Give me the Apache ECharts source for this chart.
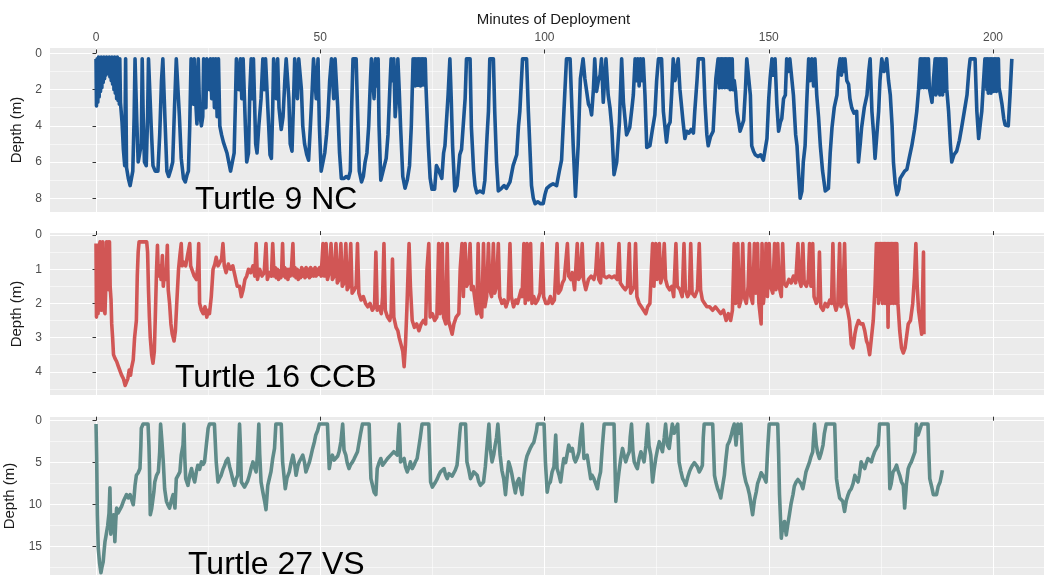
<!DOCTYPE html>
<html>
<head>
<meta charset="utf-8">
<title>Turtle dive profiles</title>
<script src="https://cdn.jsdelivr.net/npm/echarts@6/dist/echarts.min.js"></script>
<style>
html, body { margin: 0; padding: 0; background: #ffffff; }
#chart { width: 1044px; height: 575px; }
</style>
</head>
<body>
<div id="chart"></div>
<script>
// tick values
var minuteTicks = [0, 50, 100, 150, 200];
var minuteMinor = [25, 75, 125, 175];
var ncDepthTicks = [0, 2, 4, 6, 8];
var ncDepthMinor = [1, 3, 5, 7];
var ccbDepthTicks = [0, 1, 2, 3, 4];
var ccbDepthMinor = [0.5, 1.5, 2.5, 3.5, 4.5];
var vsDepthTicks = [0, 5, 10, 15];
var vsDepthMinor = [2.5, 7.5, 12.5, 17.5];

var turtleNames = ['Turtle 9 NC', 'Turtle 16 CCB', 'Turtle 27 VS'];

// [minute, depth (m)]
var nc9 = [
[0,0.3],[0.1,2.9],[0.25,0.3],[0.4,2.7],[0.55,0.2],[0.7,2.4],[0.85,0.3],[1.0,2.1],[1.15,0.2],[1.3,1.9],[1.45,0.3],[1.6,1.6],[1.75,0.2],[1.9,1.4],[2.05,0.3],[2.2,1.2],[2.35,0.2],[2.5,1.1],[2.65,0.3],[2.8,1.1],[2.95,0.2],[3.1,1.3],[3.25,0.3],[3.4,1.5],[3.55,0.2],[3.7,1.7],[3.85,0.3],[4.0,2.0],[4.15,0.2],[4.3,2.2],[4.45,0.3],[4.6,2.5],[4.75,0.2],[4.9,2.6],[5.05,0.3],[5.2,2.8],[5.3,0.3],[5.45,2.7],
[5.8,3.8],[6.1,5.3],[6.4,6.2],[6.6,0.3],[6.8,6.3],[7.2,6.9],[7.6,7.3],[7.9,7.2],[8.2,6.5],[8.5,3.5],[8.7,0.3],
[8.9,0.3],[9.1,3.8],[9.4,6.0],[9.8,6.1],[10.1,5.0],[10.3,0.3],[10.5,3.2],[10.8,6.0],[11.2,6.2],[11.5,3.5],[11.7,0.3],
[12.0,0.3],[12.3,4.0],[12.7,6.2],[13.2,6.5],[13.8,6.5],[14.2,4.5],[14.6,1.5],[14.9,0.3],
[15.2,0.3],[15.4,3.8],[15.8,6.5],[16.2,6.8],[16.7,6.4],[17.1,6.0],[17.5,3.0],[17.9,0.3],
[18.3,0.3],[18.6,3.5],[19.0,5.8],[19.5,6.9],[19.9,7.1],[20.3,6.7],[20.6,6.5],[20.9,4.0],[21.2,0.3],
[21.5,0.3],[21.7,2.8],[21.9,0.3],[22.2,2.5],[22.5,3.9],[22.8,0.3],[23.1,3.3],[23.5,4.0],[23.8,3.5],[24.0,0.3],
[24.3,0.3],[24.5,3.0],[24.7,0.3],[25.0,0.3],[25.3,2.0],[25.5,0.3],[25.8,2.5],[26.1,0.3],[26.4,3.0],[26.7,0.3],[27.0,3.5],[27.3,0.3],
[27.6,4.0],[28.0,4.5],[28.4,4.9],[28.8,4.9],[29.2,5.5],[29.6,6.0],[30.0,6.5],[30.4,6.4],[30.8,5.5],[31.1,2.5],[31.3,0.3],
[31.6,0.3],[31.9,2.0],[32.2,0.3],[32.5,2.5],[32.8,0.3],[33.1,0.3],[33.3,4.0],[33.6,6.0],[34.0,5.5],[34.3,2.0],[34.6,0.3],
[34.9,2.5],[35.1,0.3],[35.4,0.3],[35.6,5.0],[35.9,5.5],[36.3,4.0],[36.8,2.5],[37.2,0.3],[37.5,2.0],[37.8,0.3],[38.1,0.3],
[38.4,3.5],[38.8,5.6],[39.1,5.8],[39.4,3.0],[39.6,0.3],[39.9,0.3],[40.2,2.5],[40.5,0.3],[40.8,3.0],[41.3,4.2],[41.7,3.5],[42.1,1.5],[42.4,0.3],
[42.7,0.3],[43.0,2.5],[43.3,5.0],[43.7,5.4],[44.0,3.0],[44.3,0.3],[44.6,0.3],[44.9,2.5],[45.2,0.3],[45.5,0.3],[45.8,2.0],
[46.1,4.0],[46.5,5.0],[47.0,5.6],[47.4,5.9],[47.8,4.0],[48.2,2.0],[48.5,0.3],[48.8,0.3],[49.1,2.5],[49.5,0.3],
[49.8,4.0],[50.2,6.5],[50.6,6.6],[51.0,5.5],[51.4,4.5],[51.7,3.5],[52.1,1.5],[52.5,0.3],[52.8,0.3],[53.0,2.5],[53.3,0.3],[53.6,0.3],
[53.9,3.0],[54.3,5.5],[54.7,6.9],[55.3,6.9],[55.8,6.8],[56.3,6.9],[56.7,6.5],[57.0,3.0],[57.3,0.3],[57.7,0.3],[58.0,0.3],
[58.3,3.0],[58.7,6.5],[59.2,7.1],[59.6,6.8],[60.0,6.0],[60.4,5.5],[60.8,4.0],[61.1,2.0],[61.4,0.3],[61.7,0.3],[62.0,2.5],[62.3,0.3],[62.6,1.8],[62.9,0.3],
[63.1,4.0],[63.5,7.0],[63.9,7.1],[64.3,6.2],[64.7,5.8],[65.1,4.5],[65.5,2.0],[65.8,0.3],[66.1,1.5],[66.4,0.3],[66.7,3.5],[67.0,2.5],[67.3,0.3],
[67.6,2.0],[67.9,4.0],[68.4,6.8],[68.9,7.45],[69.4,7.0],[69.9,6.2],[70.3,4.0],[70.7,0.3],
[70.85,1.75],[71.0,0.3],[71.15,1.8],[71.3,0.3],[71.45,1.7],[71.6,0.3],[71.75,1.75],[71.9,0.3],[72.05,1.7],[72.2,0.3],[72.35,1.8],[72.5,0.3],[72.65,1.75],[72.8,0.3],[72.95,1.7],[73.1,0.3],[73.25,1.75],[73.4,0.3],[73.55,1.7],[73.7,1.75],
[74.1,5.1],[74.5,6.9],[74.9,7.5],[75.5,7.5],[75.9,6.2],[76.3,6.4],[76.7,6.4],[77.1,6.9],[77.5,5.5],[77.8,5.1],[78.5,2.3],[78.9,0.3],
[79.2,2.5],[79.5,5.1],[80.0,7.6],[80.5,7.3],[80.8,7.3],[81.1,5.6],[81.5,5.3],[81.9,5.2],[82.3,2.5],[82.6,0.3],[83.4,0.3],
[83.7,4.1],[84.2,6.5],[84.5,7.3],[84.9,7.7],[85.6,7.6],[86.3,7.7],[86.7,7.0],[87.2,4.5],[87.5,3.2],[87.8,0.3],[88.6,0.3],
[88.9,3.2],[89.3,6.0],[89.7,7.6],[90.4,7.45],[91.0,7.3],[91.5,7.45],[92.3,7.1],[93.0,6.2],[93.8,5.6],[94.2,4.0],[94.5,3.2],[95.1,0.3],[96.0,0.3],
[96.4,3.2],[97.1,7.3],[97.5,8.0],[97.9,8.3],[98.5,8.2],[99.1,8.3],[99.7,8.3],[100.1,7.8],[100.5,7.45],[101.2,7.3],[101.9,7.2],[102.7,7.3],[103.3,6.5],[103.8,5.9],[104.5,2.3],[104.9,0.3],[105.7,0.3],
[106.0,2.3],[106.4,5.1],[106.9,7.9],[107.5,5.1],[108.0,1.4],[108.6,0.3],
[109.0,1.4],[109.8,2.8],[110.2,3.0],[110.5,3.4],[110.9,2.0],[111.2,0.3],[111.6,2.1],[112.0,1.5],[112.4,1.2],[112.7,0.3],[113.1,2.7],[113.7,0.3],
[114.2,2.3],[114.6,3.0],[115.0,4.1],[115.5,6.7],[116.1,6.0],[116.7,3.8],[117.2,0.3],
[117.6,2.7],[118.3,4.5],[119.0,4.1],[119.5,3.0],[119.8,2.3],[120.2,0.3],[120.5,1.5],[120.8,0.3],[121.1,1.8],[121.4,0.3],[121.7,1.5],[122.0,0.3],
[122.4,2.3],[122.8,5.2],[123.5,5.1],[124.0,4.3],[124.6,3.4],[125.0,1.5],[125.4,0.3],[126.1,0.3],
[126.5,3.2],[127.2,4.9],[127.6,4.0],[128.0,3.8],[128.4,2.0],[128.7,0.3],[129.1,1.5],[129.4,1.4],[129.8,0.3],
[130.2,2.0],[130.9,3.8],[131.3,4.7],[131.7,4.3],[132.2,4.4],[132.7,4.2],[133.2,4.4],[133.5,3.2],[134.0,1.5],[134.3,0.3],[135.4,0.3],
[135.8,2.8],[136.2,4.5],[136.5,5.1],[137.0,4.6],[137.6,4.3],[138.2,1.4],[138.7,0.3],
[139.0,1.9],[139.15,0.3],[139.3,1.7],[139.45,0.3],[139.6,1.9],[139.75,0.3],[139.9,1.8],[140.05,0.3],[140.2,1.9],[140.35,0.3],[140.5,1.7],[140.65,0.3],[140.8,1.9],[140.95,0.3],[141.1,1.8],[141.25,0.3],[141.4,2.0],[141.55,0.3],[141.7,1.9],[141.85,0.3],[142.0,2.0],[142.3,1.5],[142.6,2.1],
[142.9,3.2],[143.3,3.8],[143.6,4.3],[144.0,4.0],[144.4,3.7],[144.8,2.0],[145.1,0.3],[145.5,0.3],
[145.9,2.3],[146.2,5.1],[146.6,5.4],[147.0,5.6],[147.6,5.7],[148.2,5.6],[148.8,5.9],[149.2,6.0],[149.6,4.7],[150.0,2.5],[150.3,1.4],[150.7,0.3],[151.0,1.2],[151.4,0.3],
[151.8,2.8],[152.2,4.3],[152.6,3.8],[152.9,3.6],[153.3,2.5],[153.7,2.3],[154.0,0.3],[154.4,1.0],[154.7,0.3],[155.1,0.3],
[155.5,2.3],[156.0,4.5],[156.3,5.1],[156.7,6.8],[157.0,8.0],[157.4,7.6],[157.7,6.0],[158.1,5.1],[158.5,2.5],[158.9,0.3],[159.2,1.5],[159.6,0.3],[160.0,1.8],[160.3,0.3],
[160.7,2.3],[161.1,3.5],[161.5,5.1],[162.0,6.5],[162.6,7.6],[163.0,7.5],[163.3,7.45],[163.7,5.5],[164.1,4.1],[164.6,3.0],[165.2,2.3],[165.5,1.0],[165.9,0.3],[166.2,1.2],[166.5,0.3],[166.8,1.0],[167.0,0.3],
[167.4,1.5],[167.8,1.7],[168.1,2.5],[168.5,3.0],[169.0,3.3],[169.6,3.2],[170.0,6.0],[170.4,5.0],[170.7,4.1],[171.3,3.0],[171.9,2.3],[172.3,1.0],[172.6,0.3],
[173.0,3.2],[173.4,4.5],[173.7,5.8],[174.1,4.5],[174.5,3.2],[174.8,1.5],[175.2,0.3],[175.7,1.0],[176.3,0.3],
[176.7,1.5],[177.1,2.3],[177.5,4.0],[177.8,6.0],[178.2,7.2],[178.6,7.8],[179.0,7.5],[179.3,6.9],[179.8,6.7],[180.3,6.5],[180.8,6.4],[181.3,5.8],[181.9,5.1],[182.5,4.2],[183.0,3.2],[183.4,2.0],[183.8,0.3],
[183.95,1.9],[184.1,0.3],[184.25,1.8],[184.4,0.3],[184.55,1.9],[184.7,0.3],[184.85,1.8],[185.0,0.3],[185.15,1.9],[185.3,0.3],[185.45,1.7],[185.6,0.3],[185.8,1.9],[186.0,1.9],[186.4,2.7],[186.7,1.5],[187.1,0.3],
[187.25,2.3],[187.4,0.3],[187.55,2.0],[187.7,0.3],[187.85,2.2],[188.0,0.3],[188.15,2.3],[188.3,0.3],[188.45,2.0],[188.6,0.3],[188.75,2.3],[188.9,0.3],[189.05,2.1],[189.2,0.3],[189.35,2.0],[189.5,0.3],[189.7,2.0],
[190.1,3.2],[190.5,5.0],[190.8,6.0],[191.3,5.6],[191.9,5.4],[192.5,4.8],[193.0,4.1],[193.6,3.2],[194.2,2.3],[194.6,1.0],[194.9,0.3],[196.0,0.3],
[196.4,3.2],[196.8,4.7],[197.2,3.8],[197.5,3.2],[197.9,1.5],[198.2,0.3],
[198.35,1.8],[198.5,0.3],[198.65,2.0],[198.8,0.3],[198.95,2.2],[199.1,0.3],[199.25,2.0],[199.4,0.3],[199.55,2.2],[199.7,0.3],[199.85,1.8],[200.0,0.3],[200.15,2.1],[200.3,0.3],[200.45,1.9],[200.6,0.3],[200.75,2.1],[200.9,0.3],[201.05,2.0],[201.2,0.3],[201.35,1.9],
[201.6,2.2],[202.0,2.8],[202.4,3.6],[202.7,3.95],[203.1,3.9],[203.4,4.0],[203.8,2.3],[204.2,0.3]
];

var ccb16 = [
[0,0.25],[0.1,2.4],[0.3,1.2],[0.45,2.3],[0.6,1.8],[0.75,0.3],[0.9,0.2],[1.0,1.9],[1.2,2.2],[1.35,1.2],[1.5,0.2],[1.65,1.6],[1.8,2.2],[2.0,2.3],[2.2,1.4],[2.35,0.2],[2.5,1.3],[2.65,0.2],[2.8,1.6],[3.0,0.2],[3.15,1.5],[3.35,1.9],
[3.5,2.6],[3.7,3.0],[3.9,3.5],[4.2,3.6],[4.6,3.7],[5.0,3.85],[5.3,3.9],[5.7,4.1],[6.1,4.2],[6.5,4.4],[6.8,4.45],[7.1,4.2],[7.4,3.95],[7.7,4.1],[7.9,3.9],[8.3,3.65],[8.6,3.0],[9.0,2.5],[9.2,1.2],[9.4,0.5],[9.6,0.2],[10.5,0.2],[11.3,0.2],
[11.5,0.5],[11.7,1.6],[11.9,2.4],[12.1,3.0],[12.4,3.5],[12.7,3.75],[13.0,3.4],[13.2,2.5],[13.5,1.0],[13.7,0.3],[13.9,1.2],[14.2,0.9],[14.5,1.3],[14.8,0.6],[15.0,1.5],[15.3,1.0],[15.6,1.3],[15.9,0.3],
[16.1,1.6],[16.4,2.0],[16.7,2.6],[17.0,2.9],[17.4,3.1],[17.7,2.8],[18.0,2.0],[18.4,1.0],[18.7,0.6],[19.0,0.25],[19.2,0.9],[19.6,0.8],[20.0,0.9],[20.4,0.6],[20.9,0.25],[21.1,0.9],[21.5,0.85],[21.9,1.2],[22.4,1.3],[22.7,0.9],[22.9,0.25],
[23.1,2.0],[23.5,2.2],[23.9,2.3],[24.3,2.1],[24.7,2.4],[25.0,2.2],[25.3,2.3],[25.7,1.8],[26.1,1.0],[26.5,0.85],[26.8,0.65],[27.2,0.9],[27.6,0.85],[28.0,0.7],[28.3,0.25],[28.6,0.9],[29.0,1.1],[29.5,0.85],[30.0,1.0],[30.5,0.9],
[31.0,1.2],[31.5,1.5],[32.0,1.5],[32.4,1.8],[32.8,1.6],[33.2,1.3],[33.6,1.2],[34.0,1.0],[34.5,1.1],[35.0,0.9],[35.4,1.2],[35.7,0.25],[36.0,1.3],[36.5,1.0],[37.0,1.2],[37.5,1.1],[37.9,0.25],[38.2,1.3],[38.7,1.1],[39.1,1.2],[39.4,0.25],
[39.7,1.2],[39.95,0.95],[40.2,1.25],[40.45,1.0],[40.7,1.3],[40.95,1.05],[41.2,1.25],[41.4,1.0],[41.6,0.25],[41.8,1.2],[42.05,0.95],[42.3,1.25],[42.55,1.0],[42.8,1.3],[43.05,1.0],[43.3,1.2],[43.55,1.05],[43.9,0.25],
[44.1,1.2],[44.35,0.95],[44.6,1.25],[44.85,1.0],[45.1,1.3],[45.35,1.05],[45.6,1.25],[45.85,0.95],[46.1,1.2],[46.35,1.0],[46.6,1.25],[46.85,0.95],[47.1,1.2],[47.35,1.0],[47.6,1.25],[47.85,0.95],[48.1,1.2],[48.35,1.0],[48.6,1.2],[48.85,0.95],[49.1,1.2],[49.35,1.0],[49.6,1.15],[49.85,0.95],[50.2,1.2],
[50.6,0.25],[50.9,1.2],[51.3,0.25],[51.6,1.3],[52.0,1.1],[52.4,0.25],[52.7,1.3],[53.1,1.2],[53.5,0.25],[53.8,1.4],[54.2,1.3],[54.6,0.25],[54.9,1.5],[55.3,1.4],[55.7,0.25],[56.0,1.6],[56.4,1.5],[56.8,0.25],[57.1,1.7],[57.6,1.6],[58.0,1.5],[58.3,0.25],
[58.6,1.7],[59.1,1.9],[59.6,1.8],[60.1,2.0],[60.6,2.1],[61.1,2.0],[61.6,2.2],[62.1,2.1],[62.4,0.5],[62.7,2.2],[63.2,2.1],[63.6,2.3],[63.9,1.8],[64.2,0.25],[64.5,2.2],[65.0,2.4],[65.5,2.5],[65.8,2.3],[66.1,0.7],[66.4,2.4],
[66.9,2.7],[67.3,2.8],[67.6,3.0],[68.0,3.2],[68.4,3.4],[68.7,3.85],[69.0,3.2],[69.3,2.2],[69.6,1.0],[69.8,0.25],[70.1,1.5],[70.5,2.5],[71.0,2.7],[71.5,2.6],[72.0,2.8],[72.5,2.6],[73.0,2.5],[73.5,2.6],[73.8,1.0],[74.2,0.25],
[74.5,2.4],[75.0,2.3],[75.5,2.5],[76.0,2.4],[76.4,0.25],[76.7,2.3],[77.0,1.0],[77.2,0.25],[77.5,2.4],[78.0,2.6],[78.3,0.25],[78.6,2.5],[79.0,2.7],[79.4,2.9],[79.8,2.6],[80.3,2.4],[80.9,2.3],[81.2,1.0],[81.6,0.25],
[81.9,1.8],[82.3,0.25],[82.6,1.5],[83.0,1.4],[83.4,0.25],[83.7,1.6],[84.1,1.5],[84.5,1.9],[84.9,2.3],[85.2,0.25],[85.5,2.2],[86.0,2.4],[86.4,0.25],[86.7,2.1],[87.1,1.8],[87.5,0.25],[87.8,1.6],[88.2,1.8],[88.6,0.25],[88.9,1.7],[89.3,1.5],[89.7,0.25],
[90.0,1.8],[90.5,2.0],[91.0,1.9],[91.4,2.1],[91.9,1.9],[92.3,0.25],[92.6,1.8],[93.1,2.1],[93.6,1.9],[94.0,2.0],[94.4,1.8],[94.8,1.6],
[95.0,1.8],[95.4,0.25],[95.7,2.0],[96.1,0.25],[96.4,1.9],[96.9,0.25],[97.2,2.0],[97.6,1.8],[98.0,2.0],[98.5,1.9],[99.0,1.7],[99.5,0.25],[99.8,1.8],[100.3,2.0],[100.8,2.0],[101.3,1.8],[101.7,2.0],[102.2,1.9],[102.8,0.25],
[103.1,1.7],[103.6,1.6],[104.0,1.4],[104.4,1.3],[105.1,0.25],[105.4,1.2],[105.9,1.3],[106.2,1.1],[106.7,1.6],[107.3,0.25],[107.6,1.3],[108.0,1.2],[108.4,0.25],[108.7,1.3],[109.2,1.6],[109.8,1.3],[110.4,1.2],[111.0,1.3],[111.4,1.1],[111.8,0.25],
[112.1,1.3],[112.5,1.4],[112.9,0.25],[113.2,1.2],[113.8,1.25],[114.4,1.2],[115.0,1.25],[115.6,1.2],[116.2,1.3],[116.6,0.25],[116.9,1.4],[117.4,1.5],[118.0,1.6],[118.5,1.5],[118.9,0.25],[119.2,1.7],[119.6,1.75],[120.0,1.5],[120.3,0.25],
[120.6,1.8],[121.1,2.0],[121.6,2.1],[122.1,2.2],[122.6,2.3],[123.0,2.1],[123.5,2.0],[124.1,0.25],[124.4,1.5],[124.8,0.25],[125.1,1.3],[125.6,0.25],[125.9,1.4],[126.3,1.2],[126.7,0.25],
[127.0,1.3],[127.4,1.5],[127.9,1.6],[128.4,1.5],[128.8,1.8],[129.3,0.25],[129.6,1.5],[130.2,1.6],[130.7,1.8],[131.1,0.25],[131.4,1.6],[131.9,1.8],[132.3,1.7],[132.6,0.25],[132.9,1.7],[133.5,1.8],[134.1,1.6],[134.5,0.25],
[134.8,1.6],[135.2,1.9],[135.7,2.0],[136.2,2.1],[136.8,2.1],[137.5,2.2],[138.1,2.1],[138.7,2.2],[139.3,2.3],[139.9,2.2],[140.5,2.5],[141.0,2.3],[141.5,2.5],[141.9,2.2],[142.3,0.25],
[142.6,2.0],[143.1,0.25],[143.4,2.1],[143.8,1.9],[144.2,0.25],[144.5,1.8],[145.0,2.0],[145.4,1.5],[145.7,0.25],[146.0,1.8],[146.4,2.0],[146.8,0.25],[147.1,1.7],[147.5,0.25],[147.8,2.0],[148.3,2.6],[148.5,0.25],[148.8,2.0],[149.1,1.6],[149.4,0.25],
[149.7,1.8],[150.1,0.25],[150.4,1.5],[150.9,1.7],[151.3,0.25],[151.6,1.6],[152.0,0.25],[152.3,1.5],[152.8,1.8],[153.1,0.25],[153.4,1.4],[153.9,1.5],[154.5,1.3],[155.0,1.4],[155.5,1.2],[156.0,1.4],[156.5,0.25],
[156.8,1.3],[157.2,1.5],[157.6,0.25],[157.9,1.4],[158.4,1.5],[158.8,1.3],[159.1,0.25],[159.4,1.5],[159.8,0.25],[160.1,1.8],[160.6,2.0],[161.0,1.9],[161.3,0.5],[161.6,2.1],[162.1,2.2],[162.6,2.0],[163.1,2.1],[163.6,1.9],[164.0,2.0],[164.3,0.25],
[164.6,2.0],[165.0,2.2],[165.4,2.0],[165.8,0.25],[166.1,2.1],[166.5,2.0],[166.9,0.25],[167.2,2.0],[167.6,2.2],[168.0,2.5],[168.4,3.2],[168.8,3.3],[169.2,2.9],[169.5,2.7],[170.0,2.5],[170.5,2.6],[171.0,2.6],[171.4,2.8],[171.8,3.1],[172.1,3.2],[172.5,3.5],[172.9,3.0],[173.3,2.5],[173.7,1.5],
[174.0,0.25],[174.15,1.8],[174.3,0.25],[174.45,2.0],[174.6,0.25],[174.75,1.9],[174.9,0.25],[175.05,1.8],[175.2,0.25],[175.35,2.0],[175.5,0.25],[175.65,1.9],[175.8,0.25],[175.95,2.0],[176.1,0.25],[176.25,1.9],[176.4,0.25],[176.6,2.7],
[176.75,0.25],[176.9,1.8],[177.05,0.25],[177.2,2.0],[177.35,0.25],[177.5,1.9],[177.65,0.25],[177.8,2.0],[177.95,0.25],[178.1,1.9],[178.25,0.25],[178.4,2.0],[178.55,0.25],[178.8,2.0],
[179.2,2.8],[179.6,3.3],[180.0,3.45],[180.4,3.3],[180.7,3.0],[181.1,2.6],[181.6,2.5],[182.1,2.0],[182.5,1.2],[182.8,0.25],[183.1,1.5],[183.4,2.2],[183.8,2.6],[184.1,2.9],[184.4,2.9],[184.5,0.5],[184.6,2.9]
];

var vs27 = [
[0,0.4],[0.1,0.45],[0.15,4.5],[0.3,11.2],[0.5,15.2],[0.8,17.0],[1.1,18.1],[1.3,17.5],[1.6,16.8],[1.8,15.5],[2.0,14.4],[2.2,13.8],[2.4,13.6],[2.6,12.5],[2.7,12.0],[2.9,11.0],[3.1,8.0],[3.3,13.5],[3.6,12.2],[3.9,11.2],[4.1,12.8],[4.2,14.4],
[4.4,12.0],[4.6,10.4],[4.9,11.0],[5.3,10.8],[5.7,10.2],[6.1,9.6],[6.5,9.8],[6.8,8.8],[7.2,9.2],[7.6,8.8],[8.0,9.5],[8.3,10.0],[8.5,9.0],[8.7,7.7],[9.0,6.5],[9.4,6.2],[9.8,5.7],[10.0,3.0],[10.1,0.9],[10.5,0.4],[11.6,0.4],
[11.8,3.0],[11.9,5.0],[12.1,11.2],[12.4,10.5],[12.6,10.4],[12.9,8.5],[13.1,7.3],[13.5,6.5],[13.9,6.1],[14.2,3.7],[14.4,0.4],[14.7,2.5],[15.0,4.9],[15.3,8.1],[15.7,9.6],[16.0,10.0],[16.4,10.4],[16.8,9.5],[17.2,8.8],[17.6,10.4],
[17.9,6.9],[18.3,6.5],[18.7,6.1],[19.0,4.1],[19.4,2.9],[19.6,0.4],[19.8,4.5],[20.0,6.9],[20.5,7.7],[20.9,6.5],[21.3,5.7],[21.7,6.8],[22.0,7.3],[22.4,6.0],[22.7,5.3],[23.1,5.8],[23.5,4.9],[23.9,5.2],[24.2,4.9],[24.6,2.9],[25.0,0.9],[25.3,0.4],[26.4,0.4],
[26.8,4.9],[27.2,7.3],[27.6,6.8],[27.9,6.5],[28.3,5.8],[28.7,5.3],[29.0,4.8],[29.4,4.5],[29.8,5.5],[30.1,6.1],[30.5,7.0],[30.9,7.7],[31.2,7.0],[31.6,6.5],[31.8,3.0],[32.0,0.4],[32.2,3.0],[32.4,7.3],[32.7,7.3],[33.1,7.9],[33.5,8.1],
[33.8,7.2],[34.2,6.5],[34.6,5.6],[35.0,4.9],[35.3,5.5],[35.7,6.1],[36.0,4.0],[36.3,0.4],[36.5,4.0],[36.8,7.3],[37.2,8.5],[37.6,9.6],[37.9,10.6],[38.3,7.7],[38.6,7.0],[39.0,6.1],[39.4,4.5],[39.8,3.3],[40.1,0.4],[41.3,0.4],
[41.6,4.9],[42.0,7.0],[42.2,8.1],[42.6,6.8],[43.1,6.1],[43.5,5.0],[43.9,4.1],[44.3,5.2],[44.6,6.5],[45.0,5.4],[45.3,4.9],[45.7,4.5],[46.1,4.1],[46.5,5.0],[46.8,6.1],[47.2,5.5],[47.6,4.9],[48.0,4.0],[48.3,3.3],[48.7,2.5],[49.0,1.7],[49.4,1.2],[49.8,0.4],[51.6,0.4],
[52.0,5.7],[52.4,4.5],[52.7,4.1],[53.1,4.7],[53.5,4.9],[53.9,4.2],[54.2,3.7],[54.6,2.5],[55.0,0.4],[55.3,3.5],[55.7,4.1],[56.0,5.0],[56.4,5.7],[56.8,5.2],[57.2,4.9],[57.5,4.6],[57.9,4.5],[58.3,3.7],[58.7,3.7],[59.0,1.5],[59.4,0.4],[60.9,0.4],
[61.1,4.0],[61.3,6.9],[61.7,7.8],[62.0,8.5],[62.4,8.8],[62.7,5.7],[63.1,5.0],[63.5,4.5],[63.9,5.3],[64.2,5.3],[64.6,4.8],[65.0,4.5],[65.3,4.3],[65.7,4.1],[66.0,3.9],[66.4,3.7],[66.8,3.9],[67.2,4.1],[67.4,2.0],[67.6,0.4],
[67.8,3.0],[67.9,4.9],[68.3,4.7],[68.7,4.5],[69.0,5.5],[69.4,6.1],[69.8,5.5],[70.1,4.9],[70.5,5.7],[70.9,5.3],[71.2,4.9],[71.6,4.5],[72.0,4.5],[72.3,2.0],[72.7,0.4],[74.2,0.4],
[74.4,4.0],[74.6,7.3],[75.0,7.9],[75.3,7.7],[75.7,7.3],[76.1,6.9],[76.4,6.5],[76.8,6.1],[77.2,5.9],[77.6,5.7],[77.9,6.4],[78.3,6.9],[78.7,6.3],[79.0,6.1],[79.4,6.6],[79.8,6.5],[80.1,5.9],[80.5,5.3],[80.8,3.5],[81.1,1.5],[81.3,0.4],[82.4,0.4],
[82.7,4.9],[83.1,5.8],[83.5,6.9],[83.9,6.5],[84.2,6.1],[84.6,6.3],[85.0,6.5],[85.3,7.2],[85.7,7.7],[86.0,7.5],[86.4,7.3],[86.8,5.5],[87.2,2.9],[87.6,0.4],[87.9,3.3],[88.3,4.9],[88.7,4.0],[89.0,2.9],[89.3,2.0],[89.6,0.4],
[90.1,4.1],[90.5,5.9],[90.9,6.9],[91.3,8.8],[91.6,7.0],[92.0,4.9],[92.4,5.6],[92.7,6.3],[93.1,7.5],[93.5,8.6],[93.9,7.3],[94.3,6.9],[94.6,7.8],[95.0,8.8],[95.4,6.5],[95.8,4.9],[96.1,4.2],[96.5,3.7],[96.9,3.2],[97.2,2.9],[97.6,2.6],[98.0,2.5],[98.2,1.2],[98.4,0.4],[99.9,0.4],
[100.2,4.9],[100.6,8.5],[100.9,7.6],[101.3,7.3],[101.7,6.1],[102.1,5.5],[102.5,1.7],[102.8,5.7],[103.2,6.4],[103.6,7.3],[104.0,5.6],[104.3,4.5],[104.7,5.0],[105.1,4.9],[105.4,2.9],[105.8,3.6],[106.2,3.3],[106.6,4.5],[106.9,4.9],[107.3,4.4],[107.7,3.7],[108.0,2.0],[108.4,0.4],
[108.8,4.5],[109.1,4.4],[109.5,4.1],[109.9,5.5],[110.3,6.9],[110.6,6.5],[111.0,6.9],[111.4,7.5],[111.8,8.1],[112.1,7.0],[112.5,6.1],[112.9,3.0],[113.3,0.4],[115.5,0.4],
[115.7,5.0],[115.9,9.6],[116.2,8.0],[116.6,6.1],[117.0,4.5],[117.4,3.3],[117.7,4.0],[118.1,4.9],[118.5,4.2],[118.9,3.7],[119.1,2.0],[119.4,0.4],[119.7,3.5],[120.0,4.9],[120.4,5.4],[120.7,5.7],[121.1,4.5],[121.5,3.7],[121.8,4.2],[122.2,4.9],[122.6,3.0],[123.0,0.4],
[123.3,3.0],[123.7,4.1],[124.1,7.3],[124.4,6.0],[124.8,4.5],[125.2,3.4],[125.6,2.5],[125.9,3.0],[126.3,3.7],[126.7,2.0],[127.0,0.4],[127.4,2.9],[127.8,3.3],[128.1,2.0],[128.5,0.4],[128.9,1.5],[129.3,0.9],[129.7,0.4],
[130.0,4.9],[130.4,6.0],[130.8,6.9],[131.2,7.3],[131.5,7.7],[131.9,6.8],[132.3,6.1],[132.6,5.7],[133.0,5.3],[133.4,5.0],[133.8,4.9],[134.1,5.5],[134.5,6.1],[134.9,5.7],[135.2,5.3],[135.4,2.0],[135.6,0.4],[137.5,0.4],
[137.9,6.5],[138.2,7.3],[138.6,8.1],[139.0,8.6],[139.3,9.2],[139.7,7.8],[140.1,6.5],[140.4,4.8],[140.8,2.9],[141.2,2.5],[141.6,1.8],[142.0,0.9],[142.3,0.4],[142.7,2.9],[143.1,0.4],[143.5,1.5],[143.8,0.4],
[144.2,4.9],[144.5,6.3],[144.9,7.3],[145.3,7.9],[145.7,8.8],[146.0,9.8],[146.4,11.2],[146.8,9.5],[147.2,8.5],[147.5,7.5],[147.9,6.9],[148.3,6.2],[148.7,6.1],[149.0,6.8],[149.4,7.3],[149.8,3.0],[150.1,0.4],[152.0,0.4],
[152.2,4.0],[152.4,8.8],[152.8,14.0],[153.1,12.5],[153.5,12.0],[153.9,13.6],[154.2,12.5],[154.6,11.2],[155.0,9.8],[155.4,8.8],[155.7,7.8],[156.1,7.3],[156.5,7.0],[156.9,6.9],[157.2,7.5],[157.6,8.1],[158.0,7.0],[158.3,6.1],[158.7,5.5],[159.1,4.9],[159.4,4.3],[159.8,3.7],[160.0,2.0],[160.2,0.4],
[160.6,2.9],[160.9,3.8],[161.3,4.5],[161.7,3.8],[162.1,2.9],[162.4,1.5],[162.8,0.4],[164.7,0.4],
[165.1,6.9],[165.4,8.0],[165.8,9.2],[166.1,9.0],[166.5,9.6],[166.9,10.8],[167.3,9.5],[167.7,8.8],[168.0,8.4],[168.4,8.1],[168.8,7.5],[169.2,6.5],[169.5,6.9],[169.9,7.3],[170.2,6.5],[170.6,4.9],[171.0,5.4],[171.4,5.7],[171.7,5.1],[172.1,4.5],[172.5,4.7],[172.9,4.9],[173.2,4.3],[173.6,3.7],[174.0,3.3],[174.4,2.9],[174.7,0.4],[176.6,0.4],
[176.8,4.0],[177.0,8.1],[177.3,7.5],[177.7,6.1],[178.1,5.8],[178.5,5.3],[178.8,5.9],[179.2,6.5],[179.6,7.3],[180.0,7.7],[180.3,10.4],[180.7,7.5],[181.1,5.7],[181.4,5.3],[181.8,4.9],[182.2,4.3],[182.6,3.7],[182.9,0.4],[183.3,1.7],[183.7,1.7],[184.1,0.4],[185.5,0.4],
[185.7,4.0],[185.9,6.9],[186.3,7.8],[186.7,8.8],[187.0,9.0],[187.4,8.8],[187.8,7.8],[188.2,7.3],[188.5,6.5],[188.7,5.9]
];

// panel layout
var panels = [
    {data: nc9, color: '#1b5694', top: 48, height: 164, yMin: -0.3, yMax: 8.76, ticks: ncDepthTicks, minor: ncDepthMinor, labelTop: 184, labelLeft: 195},
    {data: ccb16, color: '#d15655', top: 233, height: 162, yMin: -0.06, yMax: 4.68, ticks: ccbDepthTicks, minor: ccbDepthMinor, labelTop: 362, labelLeft: 175},
    {data: vs27, color: '#5f8b89', top: 417, height: 158, yMin: -0.44, yMax: 18.37, ticks: vsDepthTicks, minor: vsDepthMinor, labelTop: 549, labelLeft: 188}
];

var xMin = -10.26, xMax = 211.37;
var labelFont = 'Liberation Sans';

var grids = [], xAxes = [], yAxes = [], series = [], texts = [];

panels.forEach(function (p, i) {
    grids.push({
        left: 50, top: p.top, width: 994, height: p.height,
        show: true, backgroundColor: '#ebebeb', borderWidth: 0,
        outerBoundsMode: 'none'
    });

    // major x axis (ticks on top, labels only on the first panel)
    xAxes.push({
        type: 'value', gridIndex: i, position: 'top', min: xMin, max: xMax,
        name: i === 0 ? 'Minutes of Deployment' : '',
        nameLocation: 'middle', nameGap: 21,
        nameTextStyle: {color: '#1a1a1a', fontSize: 15, fontFamily: labelFont, padding: [0, 0, 0, 13]},
        axisLine: {show: false},
        axisTick: {show: true, length: 4, customValues: minuteTicks, lineStyle: {color: '#333333', width: 1}},
        axisLabel: {show: i === 0, customValues: minuteTicks, color: '#4d4d4d', fontSize: 12, fontFamily: labelFont, margin: 4},
        splitLine: {show: true, lineStyle: {color: '#ffffff', width: 1.1}}
    });
    // minor x grid lines
    xAxes.push({
        type: 'value', gridIndex: i, position: 'bottom', min: xMin, max: xMax,
        axisLine: {show: false},
        axisTick: {show: false, customValues: minuteMinor},
        axisLabel: {show: false, customValues: minuteMinor},
        splitLine: {show: true, lineStyle: {color: '#ffffff', width: 0.55}}
    });

    yAxes.push({
        type: 'value', gridIndex: i, inverse: true, position: 'left', min: p.yMin, max: p.yMax,
        name: 'Depth (m)', nameLocation: 'middle', nameGap: 23,
        nameTextStyle: {color: '#1a1a1a', fontSize: 15, fontFamily: labelFont},
        axisLine: {show: false},
        axisTick: {show: true, length: 3.5, customValues: p.ticks, lineStyle: {color: '#333333', width: 1}},
        axisLabel: {customValues: p.ticks, color: '#4d4d4d', fontSize: 12, fontFamily: labelFont, margin: 8},
        splitLine: {show: true, lineStyle: {color: '#ffffff', width: 1.1}}
    });
    yAxes.push({
        type: 'value', gridIndex: i, inverse: true, position: 'right', min: p.yMin, max: p.yMax,
        axisLine: {show: false},
        axisTick: {show: false, customValues: p.minor},
        axisLabel: {show: false, customValues: p.minor},
        splitLine: {show: true, lineStyle: {color: '#ffffff', width: 0.55}}
    });

    series.push({
        name: turtleNames[i],
        type: 'line',
        xAxisIndex: i * 2,
        yAxisIndex: i * 2,
        data: p.data,
        showSymbol: false,
        silent: true,
        lineStyle: {color: p.color, width: 3.6, join: 'round'},
        itemStyle: {color: p.color},
        z: 3
    });

    texts.push({
        type: 'text', left: p.labelLeft, top: p.labelTop, z: 100,
        style: {text: turtleNames[i], fill: '#000000', font: '32px "Liberation Sans", Arial, sans-serif'}
    });
});

var myChart = echarts.init(document.getElementById('chart'), null, {renderer: 'canvas'});
myChart.setOption({
    animation: false,
    backgroundColor: '#ffffff',
    grid: grids,
    xAxis: xAxes,
    yAxis: yAxes,
    series: series,
    graphic: texts
});
</script>
</body>
</html>
